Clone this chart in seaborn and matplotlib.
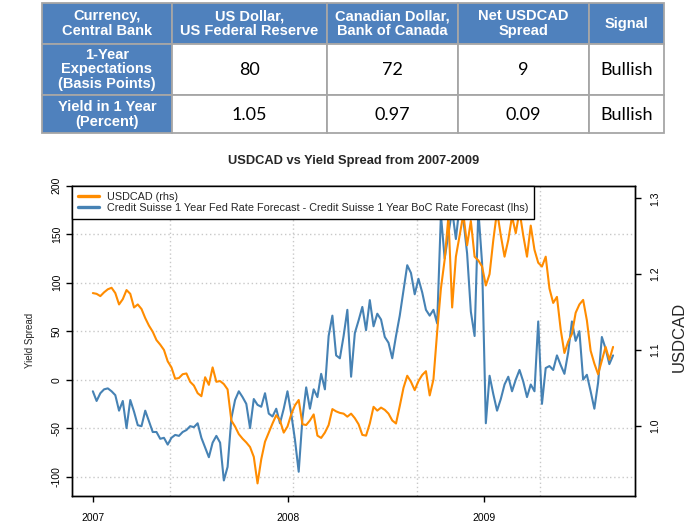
import matplotlib
matplotlib.use('Agg')
import matplotlib.pyplot as plt
import matplotlib.patches as mpatches
from matplotlib.lines import Line2D
import pandas as pd
import seaborn as sns

sns.set_style('white')
plt.rcParams['font.family'] = ['Liberation Sans', 'DejaVu Sans']

# ---------------- table data ----------------
table_header = ["Currency,\nCentral Bank", "US Dollar,\nUS Federal Reserve",
                "Canadian Dollar,\nBank of Canada", "Net USDCAD\nSpread", "Signal"]
row_labels = ["1-Year\nExpectations\n(Basis Points)", "Yield in 1 Year\n(Percent)"]
row_expectations = ["80", "72", "9", "Bullish"]
row_yield = ["1.05", "0.97", "0.09", "Bullish"]

# ---------------- chart data (weekly readings) ----------------
start_date = '2007-01-01'
usdcad = [
    1.175, 1.174, 1.171, 1.176, 1.180, 1.182, 1.175, 1.160, 1.167, 1.179,
    1.174, 1.156, 1.160, 1.154, 1.142, 1.132, 1.124, 1.113, 1.107, 1.100,
    1.085, 1.077, 1.062, 1.063, 1.068, 1.069, 1.058, 1.053, 1.043, 1.039,
    1.064, 1.054, 1.077, 1.058, 1.059, 1.055, 1.048, 1.007, 0.999, 0.989,
    0.983, 0.978, 0.972, 0.959, 0.924, 0.956, 0.979, 0.991, 1.003, 1.014,
    1.007, 0.991, 0.999, 1.015, 1.027, 1.034, 1.002, 1.001, 1.007, 1.015,
    0.987, 0.984, 0.991, 1.001, 1.022, 1.019, 1.017, 1.016, 1.012, 1.016,
    1.010, 1.002, 0.988, 0.987, 1.003, 1.025, 1.020, 1.024, 1.021, 1.016,
    1.007, 1.003, 1.026, 1.050, 1.066, 1.058, 1.047, 1.059, 1.067, 1.072,
    1.040, 1.061, 1.124, 1.181, 1.219, 1.276, 1.156, 1.223, 1.251, 1.279,
    1.238, 1.270, 1.223, 1.218, 1.210, 1.185, 1.200, 1.245, 1.283, 1.251,
    1.223, 1.245, 1.276, 1.254, 1.283, 1.251, 1.223, 1.264, 1.232, 1.215,
    1.210, 1.223, 1.181, 1.162, 1.170, 1.127, 1.096, 1.111, 1.121, 1.149,
    1.160, 1.166, 1.139, 1.099, 1.082, 1.068, 1.086, 1.104, 1.087, 1.104,
]
yield_spread = [
    -12, -22, -14, -10, -9, -12, -16, -32, -22, -50,
    -21, -33, -47, -48, -32, -43, -54, -54, -61, -60,
    -67, -60, -57, -58, -54, -52, -48, -49, -45, -60,
    -70, -80, -65, -58, -65, -104, -90, -40, -21, -12,
    -18, -25, -50, -20, -26, -28, -14, -35, -38, -30,
    -45, -30, -12, -35, -62, -95, -40, -8, -30, -10,
    -18, 6, -10, 45, 66, 25, 22, 45, 72, 3,
    48, 61, 75, 51, 82, 55, 68, 62, 44, 38,
    22, 45, 66, 92, 118, 110, 88, 104, 90, 72,
    66, 72, 58, 170, 125, 150, 175, 145, 180, 165,
    130, 70, 45, 175, 120, -45, 4, -15, -32, -20,
    -5, 3, -12, 0, 10, -2, -18, -5, -12, 60,
    -25, 12, 14, 10, 25, 15, 6, 28, 60, 40,
    50, 0, 5, -12, -30, -3, 44, 32, 16, 25,
]
year_ticks = ['2007-01-01', '2008-01-01', '2009-01-01']
year_labels = ['2007', '2008', '2009']
left_ticks = [-100, -50, 0, 50, 100, 150, 200]
right_ticks = [1.0, 1.1, 1.2, 1.3]
grid_dates = ['2007-05-25', '2008-01-11', '2008-08-29', '2009-04-16']
legend_labels = ["USDCAD (rhs)",
                 "Credit Suisse 1 Year Fed Rate Forecast - Credit Suisse 1 Year BoC Rate Forecast (lhs)"]

dates = pd.date_range(start_date, periods=len(usdcad), freq='7D')
df = pd.DataFrame({'date': dates, 'usdcad': usdcad, 'spread': yield_spread})

ORANGE = '#FF8C00'
BLUE = '#4682B4'
HEADER_BLUE = '#4F81BD'

W, H = 689, 526
fig = plt.figure(figsize=(W / 100, H / 100), dpi=100)

# ---------------- table ----------------
tax = fig.add_axes([0, 0, 1, 1])
tax.set_xlim(0, W)
tax.set_ylim(H, 0)
tax.axis('off')
col_edges = [42, 172, 327, 458, 589, 664]
row_edges = [3, 43.5, 94.5, 133]
rows = [table_header,
        [row_labels[0]] + row_expectations,
        [row_labels[1]] + row_yield]
for r in range(3):
    for c in range(5):
        x0, x1 = col_edges[c], col_edges[c + 1]
        y0, y1 = row_edges[r], row_edges[r + 1]
        is_blue = (r == 0) or (c == 0)
        tax.add_patch(mpatches.Rectangle((x0, y0), x1 - x0, y1 - y0,
                                         facecolor=HEADER_BLUE if is_blue else 'white',
                                         edgecolor='#A6A6A6', lw=1.3))
        txt = rows[r][c]
        if is_blue:
            tax.text((x0 + x1) / 2, (y0 + y1) / 2 + 0.5, txt, color='white',
                     fontsize=10.5, fontweight='bold', ha='center', va='center',
                     linespacing=1.05, family=['Liberation Sans', 'DejaVu Sans'])
        else:
            tax.text((x0 + x1) / 2, (y0 + y1) / 2 + 1, txt, color='black',
                     fontsize=13, ha='center', va='center',
                     family=['Lato', 'DejaVu Sans'])

# ---------------- chart ----------------
L, R, T, B = 72, 635, 185.7, 496
ax = fig.add_axes([L / W, 1 - B / H, (R - L) / W, (B - T) / H])
sns.lineplot(data=df, x='date', y='spread', ax=ax, color=BLUE, lw=1.5,
             errorbar=None, estimator=None)
ax2 = ax.twinx()
sns.lineplot(data=df, x='date', y='usdcad', ax=ax2, color=ORANGE, lw=1.5,
             errorbar=None, estimator=None)

ax.set_xlim(pd.Timestamp('2006-11-23'), pd.Timestamp('2009-10-11'))
ax.set_ylim(-120, 200)
ax2.set_ylim(0.9074, 1.3166)

for yv in left_ticks[:-1]:
    ax.axhline(yv, color='#C8C8C8', lw=1, ls=(0, (1, 2)), zorder=0)
for d in grid_dates:
    ax.axvline(pd.Timestamp(d), color='#C8C8C8', lw=1, ls=(0, (1, 2)), zorder=0)

ax.set_xticks([pd.Timestamp(d) for d in year_ticks])
ax.set_xticklabels(year_labels)
ax.set_yticks(left_ticks)
ax.set_yticklabels([str(v) for v in left_ticks], rotation=90, va='center')
ax2.set_yticks(right_ticks)
ax2.set_yticklabels([f'{v:.1f}' for v in right_ticks], rotation=90, va='center')

ax.tick_params(axis='x', direction='out', length=4, width=1, labelsize=7.5, pad=8,
               bottom=True, colors='black')
ax.tick_params(axis='y', direction='out', length=4.3, width=1, labelsize=7.5, pad=3,
               left=True, colors='black')
ax2.tick_params(axis='y', direction='out', length=4.3, width=1, labelsize=7.5, pad=7,
                right=True, colors='black')

ax.set_xlabel('')
ax.set_ylabel('')
ax2.set_ylabel('')
for a in (ax, ax2):
    for s in a.spines.values():
        s.set_color('black')
        s.set_linewidth(1.0)
        s.set_visible(True)

handles = [Line2D([0], [0], color=ORANGE, lw=2.4),
           Line2D([0], [0], color=BLUE, lw=2.4)]
leg = ax2.legend(handles, legend_labels, loc='upper left', bbox_to_anchor=(0, 1),
                 borderaxespad=0, fontsize=7.8, frameon=True, fancybox=False,
                 edgecolor='black', framealpha=1, borderpad=0.55,
                 handlelength=1.95, handletextpad=0.7, labelspacing=0.12)
leg.get_frame().set_linewidth(1.0)

fig.text(354 / W, 1 - 160.7 / H, 'USDCAD vs Yield Spread from 2007-2009',
         ha='center', va='center', fontsize=9.3, fontweight='bold')
fig.text(30 / W, 1 - 340 / H, 'Yield Spread', rotation=90, ha='center',
         va='center', fontsize=7)
fig.text(679 / W, 1 - 337 / H, 'USDCAD', rotation=90, ha='center',
         va='center', fontsize=12)

fig.savefig('out.png', dpi=100)
